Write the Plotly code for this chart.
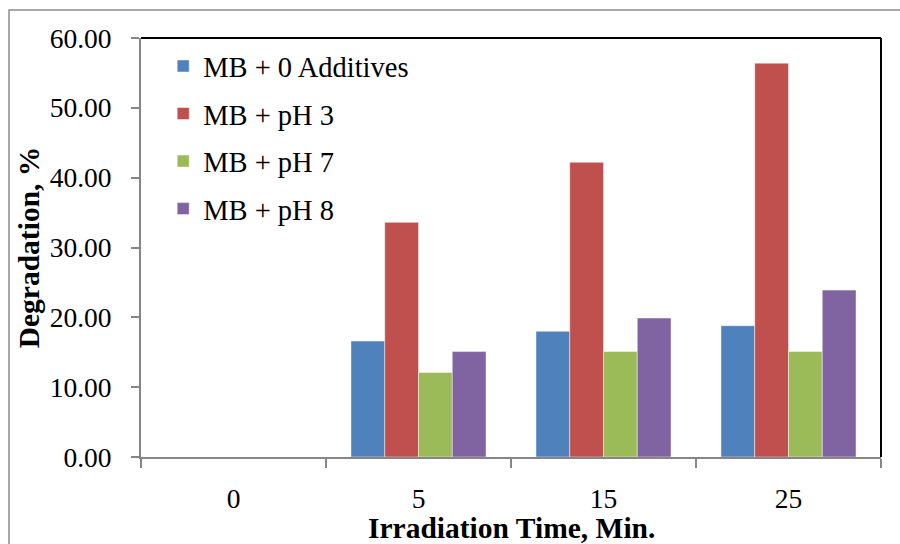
import plotly.graph_objects as go

categories = ["0", "5", "15", "25"]
series_names = ["MB + 0 Additives", "MB + pH 3", "MB + pH 7", "MB + pH 8"]
mb_0_additives = [0, 16.6, 18.0, 18.8]
mb_ph3 = [0, 33.6, 42.2, 56.4]
mb_ph7 = [0, 12.1, 15.1, 15.1]
mb_ph8 = [0, 15.1, 19.9, 23.9]
y_ticks = [0, 10, 20, 30, 40, 50, 60]

colors = ["#4F81BD", "#C0504D", "#9BBB59", "#8064A2"]
values = [mb_0_additives, mb_ph3, mb_ph7, mb_ph8]

FONT = "Liberation Serif, Times New Roman, serif"

fig = go.Figure()
for i, (name, vals) in enumerate(zip(series_names, values)):
    fig.add_trace(go.Bar(
        x=categories, y=vals, name=name, legendgroup=f"g{i}",
        marker=dict(color=colors[i], line=dict(color="rgba(255,255,255,0.45)", width=1)),
    ))

W, H = 900, 544
l, r, t, b = 141, 19, 38, 87
ph = H - t - b
pw = W - l - r

fig.update_layout(
    width=W, height=H,
    margin=dict(l=l, r=r, t=t, b=b, autoexpand=False),
    paper_bgcolor="white", plot_bgcolor="white",
    barmode="group", bargap=0.27, bargroupgap=0,
    font=dict(family=FONT, size=27, color="black"),
    legend=dict(
        x=0.03, y=0.993, xanchor="left", yanchor="top",
        bgcolor="rgba(0,0,0,0)", borderwidth=0,
        font=dict(family=FONT, size=28.5, color="black"),
        tracegroupgap=7.5, traceorder="grouped",
    ),
    showlegend=True,
)

fig.update_xaxes(
    type="category", categoryorder="array", categoryarray=categories,
    automargin=False,
    showline=True, linecolor="#868686", linewidth=2,
    ticks="outside", tickson="boundaries", ticklen=9, tickwidth=2, tickcolor="#868686",
    ticklabelstandoff=16,
    showgrid=False, zeroline=False,
    tickfont=dict(family=FONT, size=27.5, color="black"),
)
fig.update_yaxes(
    range=[0, 60], tickvals=y_ticks, tickformat=".2f",
    automargin=False,
    showline=True, linecolor="#868686", linewidth=2,
    ticks="outside", ticklen=8, tickwidth=2, tickcolor="#868686",
    ticklabelstandoff=14,
    showgrid=False, zeroline=False,
    tickfont=dict(family=FONT, size=27.5, color="black"),
    title=dict(text="<b>Degradation, %</b>", font=dict(family=FONT, size=29.5, color="black"), standoff=1),
)

fig.add_annotation(
    text="<b>Irradiation Time, Min.</b>", xref="paper", yref="paper",
    x=0.5, y=(H - b - 528) / ph, xanchor="center", yanchor="middle",
    showarrow=False, font=dict(family=FONT, size=29.5, color="black"),
)

fig.add_shape(type="rect", xref="paper", yref="paper",
              x0=(9 - l) / pw, x1=1.5, y0=-0.5, y1=(H - b - 10) / ph,
              line=dict(color="#8c8c8c", width=1.5), layer="below")
fig.add_shape(type="line", xref="paper", yref="paper", x0=0, x1=1, y0=1, y1=1,
              line=dict(color="black", width=2))
fig.add_shape(type="line", xref="paper", yref="paper", x0=1, x1=1, y0=0, y1=1,
              line=dict(color="black", width=2))

fig.write_html("out.html")
